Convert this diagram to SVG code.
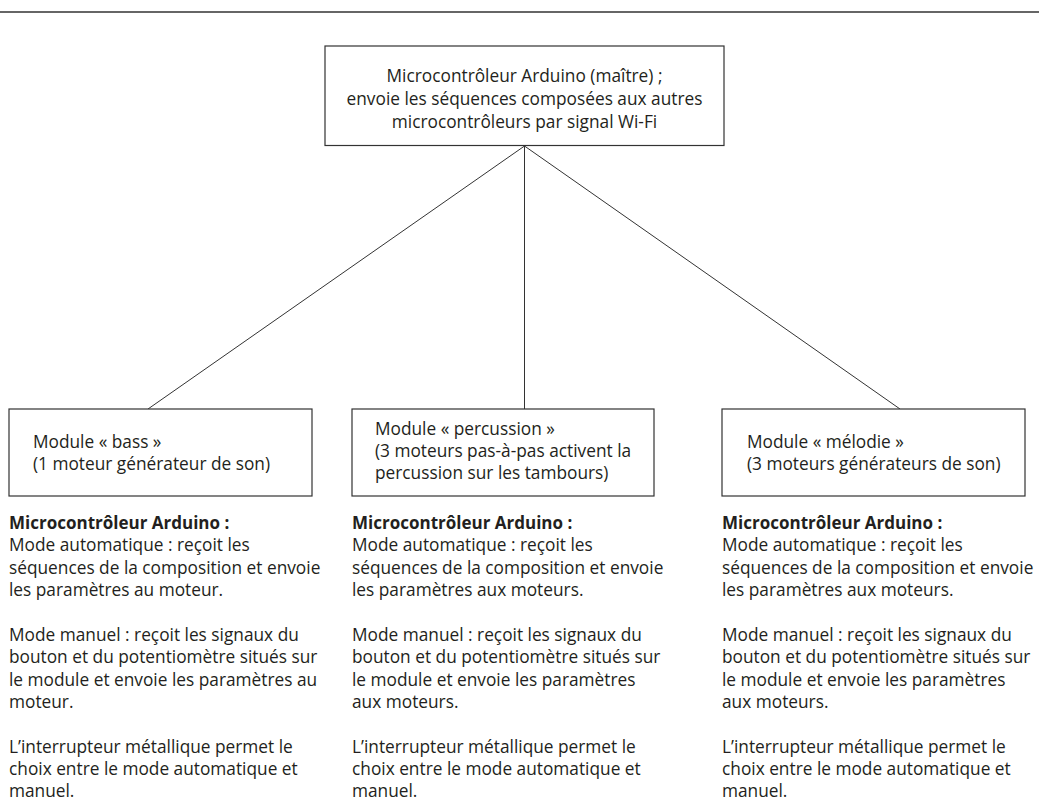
<svg xmlns="http://www.w3.org/2000/svg" width="1039" height="803" viewBox="0 0 1039 803">
  <style>
    text { font-family: "Open Sans", "Noto Sans", sans-serif; font-size: 17.3px; fill: #231f20; }
    .c { text-anchor: middle; }
    .b { font-weight: bold; font-size: 17px; }
    .box { fill: #fff; stroke: #333; stroke-width: 1.2; }
    .rule { stroke: #333; stroke-width: 1.3; }
    .conn { stroke: #333; stroke-width: 1; fill: none; }
  </style>
  <rect width="1039" height="803" fill="#fff"/>
  <line class="rule" x1="0" y1="12" x2="1039" y2="12"/>

  <g id="connectors">
    <line class="conn" x1="524.5" y1="146" x2="148" y2="409"/>
    <line class="conn" x1="524.5" y1="146" x2="524.5" y2="409"/>
    <line class="conn" x1="524.5" y1="146" x2="900" y2="409"/>
  </g>

  <g id="master">
    <rect class="box" x="325" y="46" width="399" height="99.5"/>
    <text class="c" x="524.5" y="82">Microcontrôleur Arduino (maître) ;</text>
    <text class="c" x="524.5" y="105">envoie les séquences composées aux autres</text>
    <text class="c" x="524.5" y="128">microcontrôleurs par signal Wi-Fi</text>
  </g>

  <g id="bass">
    <rect class="box" x="9" y="409" width="303" height="87"/>
    <text x="33" y="448">Module « bass »</text>
    <text x="33" y="470">(1 moteur générateur de son)</text>
  </g>

  <g id="percussion">
    <rect class="box" x="352" y="409" width="302" height="87"/>
    <text x="375" y="435">Module « percussion »</text>
    <text x="375" y="457">(3 moteurs pas-à-pas activent la</text>
    <text x="375" y="479">percussion sur les tambours)</text>
  </g>

  <g id="melodie">
    <rect class="box" x="722" y="409" width="303" height="87"/>
    <text x="747" y="448">Module « mélodie »</text>
    <text x="747" y="470">(3 moteurs générateurs de son)</text>
  </g>

  <g id="bass-details">
    <text class="b" x="9" y="529">Microcontrôleur Arduino :</text>
    <text x="9" y="551.4">Mode automatique : reçoit les</text>
    <text x="9" y="573.8">séquences de la composition et envoie</text>
    <text x="9" y="596.2">les paramètres au moteur.</text>
    <text x="9" y="640.8">Mode manuel : reçoit les signaux du</text>
    <text x="9" y="663.2">bouton et du potentiomètre situés sur</text>
    <text x="9" y="685.6">le module et envoie les paramètres au</text>
    <text x="9" y="708">moteur.</text>
    <text x="9" y="752.6">L’interrupteur métallique permet le</text>
    <text x="9" y="775">choix entre le mode automatique et</text>
    <text x="9" y="797.4">manuel.</text>
  </g>

  <g id="percussion-details">
    <text class="b" x="352" y="529">Microcontrôleur Arduino :</text>
    <text x="352" y="551.4">Mode automatique : reçoit les</text>
    <text x="352" y="573.8">séquences de la composition et envoie</text>
    <text x="352" y="596.2">les paramètres aux moteurs.</text>
    <text x="352" y="640.8">Mode manuel : reçoit les signaux du</text>
    <text x="352" y="663.2">bouton et du potentiomètre situés sur</text>
    <text x="352" y="685.6">le module et envoie les paramètres</text>
    <text x="352" y="708">aux moteurs.</text>
    <text x="352" y="752.6">L’interrupteur métallique permet le</text>
    <text x="352" y="775">choix entre le mode automatique et</text>
    <text x="352" y="797.4">manuel.</text>
  </g>

  <g id="melodie-details">
    <text class="b" x="722" y="529">Microcontrôleur Arduino :</text>
    <text x="722" y="551.4">Mode automatique : reçoit les</text>
    <text x="722" y="573.8">séquences de la composition et envoie</text>
    <text x="722" y="596.2">les paramètres aux moteurs.</text>
    <text x="722" y="640.8">Mode manuel : reçoit les signaux du</text>
    <text x="722" y="663.2">bouton et du potentiomètre situés sur</text>
    <text x="722" y="685.6">le module et envoie les paramètres</text>
    <text x="722" y="708">aux moteurs.</text>
    <text x="722" y="752.6">L’interrupteur métallique permet le</text>
    <text x="722" y="775">choix entre le mode automatique et</text>
    <text x="722" y="797.4">manuel.</text>
  </g>
</svg>
